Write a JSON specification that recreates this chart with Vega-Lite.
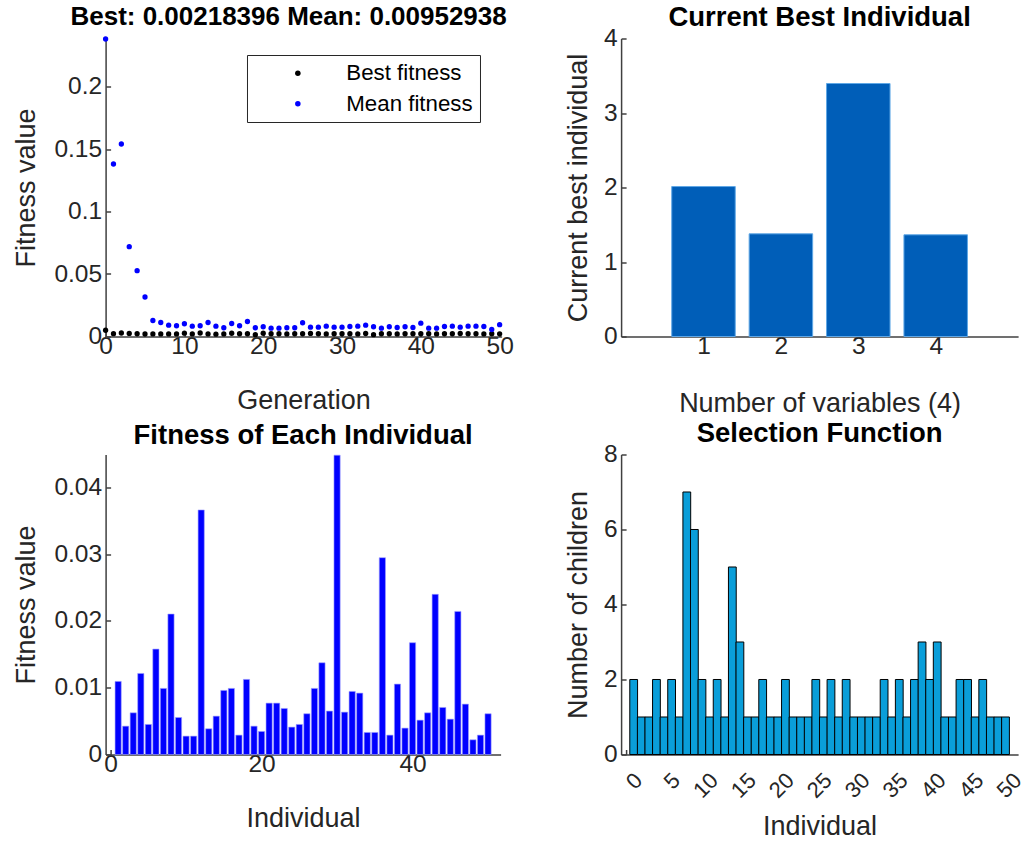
{
  "$schema": "https://vega.github.io/schema/vega-lite/v6.json",
  "background": "white",
  "padding": {"left": 11.6, "top": 3.5, "right": 5, "bottom": 5},
  "config": {
    "font": "Liberation Sans",
    "view": {"stroke": null},
    "axis": {
      "grid": false,
      "domainColor": "#404040",
      "domainWidth": 1.5,
      "tickColor": "#404040",
      "tickWidth": 1.5,
      "tickSize": -5,
      "labelColor": "#262626",
      "titleColor": "#262626",
      "labelFont": "Liberation Sans",
      "titleFont": "Liberation Sans",
      "labelFontSize": 24.5,
      "titleFontSize": 27,
      "titleFontWeight": "normal",
      "labelFlush": false,
      "labelOverlap": false,
      "titleBaseline": "alphabetic"
    },
    "axisX": {"labelPadding": 3, "titleY": 72},
    "axisY": {"labelPadding": 9},
    "title": {"font": "Liberation Sans", "fontSize": 27.5, "fontWeight": "bold", "color": "black", "baseline": "alphabetic", "offset": 12, "frame": "group"}
  },
  "columns": 2,
  "spacing": {"row": 118, "column": 119.5},
  "bounds": "flush",
  "concat": [
    {
      "width": 396,
      "height": 298,
      "title": {"text": "Best: 0.00218396 Mean: 0.00952938", "fontSize": 26, "dx": -15, "dy": 6},
      "data": {"values": [
        {"gen": 0, "Best fitness": 0.0050, "Mean fitness": 0.238},
        {"gen": 1, "Best fitness": 0.0023, "Mean fitness": 0.138},
        {"gen": 2, "Best fitness": 0.0028, "Mean fitness": 0.154},
        {"gen": 3, "Best fitness": 0.0025, "Mean fitness": 0.0719},
        {"gen": 4, "Best fitness": 0.0022, "Mean fitness": 0.0527},
        {"gen": 5, "Best fitness": 0.0020, "Mean fitness": 0.0316},
        {"gen": 6, "Best fitness": 0.0021, "Mean fitness": 0.0128},
        {"gen": 7, "Best fitness": 0.0021, "Mean fitness": 0.0112},
        {"gen": 8, "Best fitness": 0.0021, "Mean fitness": 0.0091},
        {"gen": 9, "Best fitness": 0.0021, "Mean fitness": 0.0086},
        {"gen": 10, "Best fitness": 0.0027, "Mean fitness": 0.0102},
        {"gen": 11, "Best fitness": 0.0021, "Mean fitness": 0.0083},
        {"gen": 12, "Best fitness": 0.0028, "Mean fitness": 0.0086},
        {"gen": 13, "Best fitness": 0.0021, "Mean fitness": 0.0112},
        {"gen": 14, "Best fitness": 0.0019, "Mean fitness": 0.0083},
        {"gen": 15, "Best fitness": 0.0021, "Mean fitness": 0.0070},
        {"gen": 16, "Best fitness": 0.0026, "Mean fitness": 0.0104},
        {"gen": 17, "Best fitness": 0.0022, "Mean fitness": 0.0086},
        {"gen": 18, "Best fitness": 0.0022, "Mean fitness": 0.0120},
        {"gen": 19, "Best fitness": 0.0015, "Mean fitness": 0.0070},
        {"gen": 20, "Best fitness": 0.0026, "Mean fitness": 0.0078},
        {"gen": 21, "Best fitness": 0.0022, "Mean fitness": 0.0067},
        {"gen": 22, "Best fitness": 0.0022, "Mean fitness": 0.0067},
        {"gen": 23, "Best fitness": 0.0021, "Mean fitness": 0.0070},
        {"gen": 24, "Best fitness": 0.0022, "Mean fitness": 0.0070},
        {"gen": 25, "Best fitness": 0.0022, "Mean fitness": 0.0110},
        {"gen": 26, "Best fitness": 0.0025, "Mean fitness": 0.0075},
        {"gen": 27, "Best fitness": 0.0022, "Mean fitness": 0.0075},
        {"gen": 28, "Best fitness": 0.0021, "Mean fitness": 0.0083},
        {"gen": 29, "Best fitness": 0.0022, "Mean fitness": 0.0075},
        {"gen": 30, "Best fitness": 0.0022, "Mean fitness": 0.0075},
        {"gen": 31, "Best fitness": 0.0022, "Mean fitness": 0.0080},
        {"gen": 32, "Best fitness": 0.0021, "Mean fitness": 0.0083},
        {"gen": 33, "Best fitness": 0.0024, "Mean fitness": 0.0091},
        {"gen": 34, "Best fitness": 0.0015, "Mean fitness": 0.0078},
        {"gen": 35, "Best fitness": 0.0022, "Mean fitness": 0.0067},
        {"gen": 36, "Best fitness": 0.0022, "Mean fitness": 0.0078},
        {"gen": 37, "Best fitness": 0.0021, "Mean fitness": 0.0072},
        {"gen": 38, "Best fitness": 0.0022, "Mean fitness": 0.0078},
        {"gen": 39, "Best fitness": 0.0022, "Mean fitness": 0.0072},
        {"gen": 40, "Best fitness": 0.0022, "Mean fitness": 0.0107},
        {"gen": 41, "Best fitness": 0.0022, "Mean fitness": 0.0067},
        {"gen": 42, "Best fitness": 0.0021, "Mean fitness": 0.0067},
        {"gen": 43, "Best fitness": 0.0022, "Mean fitness": 0.0080},
        {"gen": 44, "Best fitness": 0.0022, "Mean fitness": 0.0083},
        {"gen": 45, "Best fitness": 0.0024, "Mean fitness": 0.0075},
        {"gen": 46, "Best fitness": 0.0022, "Mean fitness": 0.0083},
        {"gen": 47, "Best fitness": 0.0022, "Mean fitness": 0.0083},
        {"gen": 48, "Best fitness": 0.0021, "Mean fitness": 0.0080},
        {"gen": 49, "Best fitness": 0.0022, "Mean fitness": 0.0056},
        {"gen": 50, "Best fitness": 0.00218, "Mean fitness": 0.0095}
      ]},
      "transform": [{"fold": ["Best fitness", "Mean fitness"], "as": ["series", "fitness"]}],
      "mark": {"type": "point", "filled": true, "size": 28, "opacity": 1},
      "encoding": {
        "x": {"field": "gen", "type": "quantitative", "scale": {"domain": [0, 50.25], "nice": false, "zero": false},
              "axis": {"title": "Generation", "values": [0, 10, 20, 30, 40, 50]}},
        "y": {"field": "fitness", "type": "quantitative", "scale": {"domain": [0, 0.2384], "nice": false},
              "axis": {"title": "Fitness value", "values": [0, 0.05, 0.1, 0.15, 0.2], "format": "~g", "titleX": -71.5}},
        "color": {"field": "series", "type": "nominal",
                  "scale": {"domain": ["Best fitness", "Mean fitness"], "range": ["#000000", "#0000FF"]},
                  "legend": {"title": null, "orient": "none", "legendX": 141.4, "legendY": 16.5, "direction": "vertical",
                             "fillColor": "white", "strokeColor": "#262626", "padding": 7, "rowPadding": 7.5,
                             "symbolOffset": 32.7, "labelOffset": 37.3, "symbolSize": 30, "symbolType": "circle",
                             "symbolStrokeWidth": 0, "labelFontSize": 22.3, "labelColor": "black", "labelFont": "Liberation Sans"}}
      }
    },
    {
      "width": 397,
      "height": 298,
      "title": {"text": "Current Best Individual", "dy": 18},
      "data": {"values": [
        {"var": 1, "val": 2.013},
        {"var": 2, "val": 1.378},
        {"var": 3, "val": 3.396},
        {"var": 4, "val": 1.365}
      ]},
      "mark": {"type": "bar", "width": 63.5, "color": "#005EB8", "stroke": "#5FA8E6", "strokeWidth": 1},
      "encoding": {
        "x": {"field": "var", "type": "quantitative", "scale": {"domain": [0, 5], "nice": false},
              "axis": {"title": "Number of variables (4)", "values": [1, 2, 3, 4], "titleY": 75}},
        "y": {"field": "val", "type": "quantitative", "scale": {"domain": [0, 4], "nice": false},
              "axis": {"title": "Current best individual", "values": [0, 1, 2, 3, 4], "titleX": -35}}
      }
    },
    {
      "width": 395,
      "height": 300,
      "title": {"text": "Fitness of Each Individual", "dy": 7},
      "data": {"values": [
        {"ind": 1, "fit": 0.01094}, {"ind": 2, "fit": 0.00424}, {"ind": 3, "fit": 0.00624}, {"ind": 4, "fit": 0.01213},
        {"ind": 5, "fit": 0.0045}, {"ind": 6, "fit": 0.01578}, {"ind": 7, "fit": 0.00989}, {"ind": 8, "fit": 0.02102},
        {"ind": 9, "fit": 0.00554}, {"ind": 10, "fit": 0.00275}, {"ind": 11, "fit": 0.00275}, {"ind": 12, "fit": 0.0366},
        {"ind": 13, "fit": 0.00385}, {"ind": 14, "fit": 0.00574}, {"ind": 15, "fit": 0.00959}, {"ind": 16, "fit": 0.00989},
        {"ind": 17, "fit": 0.0029}, {"ind": 18, "fit": 0.01124}, {"ind": 19, "fit": 0.00424}, {"ind": 20, "fit": 0.00345},
        {"ind": 21, "fit": 0.00769}, {"ind": 22, "fit": 0.00769}, {"ind": 23, "fit": 0.00689}, {"ind": 24, "fit": 0.0041},
        {"ind": 25, "fit": 0.0045}, {"ind": 26, "fit": 0.0061}, {"ind": 27, "fit": 0.00989}, {"ind": 28, "fit": 0.01373},
        {"ind": 29, "fit": 0.0065}, {"ind": 30, "fit": 0.0448}, {"ind": 31, "fit": 0.00634}, {"ind": 32, "fit": 0.00944},
        {"ind": 33, "fit": 0.00919}, {"ind": 34, "fit": 0.0033}, {"ind": 35, "fit": 0.0033}, {"ind": 36, "fit": 0.02946},
        {"ind": 37, "fit": 0.0029}, {"ind": 38, "fit": 0.01054}, {"ind": 39, "fit": 0.00395}, {"ind": 40, "fit": 0.01673},
        {"ind": 41, "fit": 0.00514}, {"ind": 42, "fit": 0.00624}, {"ind": 43, "fit": 0.02397}, {"ind": 44, "fit": 0.00704},
        {"ind": 45, "fit": 0.00529}, {"ind": 46, "fit": 0.02142}, {"ind": 47, "fit": 0.00754}, {"ind": 48, "fit": 0.0022},
        {"ind": 49, "fit": 0.0029}, {"ind": 50, "fit": 0.0061}
      ]},
      "mark": {"type": "bar", "width": 6.2, "color": "#0000FF", "stroke": "#A0A0FF", "strokeWidth": 0.6},
      "encoding": {
        "x": {"field": "ind", "type": "quantitative", "scale": {"domain": [0, 51], "nice": false},
              "axis": {"title": "Individual", "values": [0, 20, 40]}},
        "y": {"field": "fit", "type": "quantitative", "scale": {"domain": [0, 0.0449], "nice": false},
              "axis": {"title": "Fitness value", "values": [0, 0.01, 0.02, 0.03, 0.04], "format": "~g", "titleX": -71.5}}
      }
    },
    {
      "width": 397,
      "height": 300,
      "title": {"text": "Selection Function", "dy": 18},
      "data": {"values": [
        {"ind": 1, "n": 2}, {"ind": 2, "n": 1}, {"ind": 3, "n": 1}, {"ind": 4, "n": 2}, {"ind": 5, "n": 1},
        {"ind": 6, "n": 2}, {"ind": 7, "n": 1}, {"ind": 8, "n": 7}, {"ind": 9, "n": 6}, {"ind": 10, "n": 2},
        {"ind": 11, "n": 1}, {"ind": 12, "n": 2}, {"ind": 13, "n": 1}, {"ind": 14, "n": 5}, {"ind": 15, "n": 3},
        {"ind": 16, "n": 1}, {"ind": 17, "n": 1}, {"ind": 18, "n": 2}, {"ind": 19, "n": 1}, {"ind": 20, "n": 1},
        {"ind": 21, "n": 2}, {"ind": 22, "n": 1}, {"ind": 23, "n": 1}, {"ind": 24, "n": 1}, {"ind": 25, "n": 2},
        {"ind": 26, "n": 1}, {"ind": 27, "n": 2}, {"ind": 28, "n": 1}, {"ind": 29, "n": 2}, {"ind": 30, "n": 1},
        {"ind": 31, "n": 1}, {"ind": 32, "n": 1}, {"ind": 33, "n": 1}, {"ind": 34, "n": 2}, {"ind": 35, "n": 1},
        {"ind": 36, "n": 2}, {"ind": 37, "n": 1}, {"ind": 38, "n": 2}, {"ind": 39, "n": 3}, {"ind": 40, "n": 2},
        {"ind": 41, "n": 3}, {"ind": 42, "n": 1}, {"ind": 43, "n": 1}, {"ind": 44, "n": 2}, {"ind": 45, "n": 2},
        {"ind": 46, "n": 1}, {"ind": 47, "n": 2}, {"ind": 48, "n": 1}, {"ind": 49, "n": 1}, {"ind": 50, "n": 1}
      ]},
      "mark": {"type": "bar", "width": 7.78, "color": "#0A9ED9", "stroke": "#000000", "strokeWidth": 1},
      "encoding": {
        "x": {"field": "ind", "type": "quantitative", "scale": {"domain": [0, 51], "nice": false},
              "axis": {"title": "Individual", "values": [0, 5, 10, 15, 20, 25, 30, 35, 40, 45, 50],
                       "labelAngle": -45, "labelAlign": "right", "labelBaseline": "middle", "labelFontSize": 22,
                       "labelPadding": 27, "labelOffset": 12, "titleY": 80}},
        "y": {"field": "n", "type": "quantitative", "scale": {"domain": [0, 8], "nice": false},
              "axis": {"title": "Number of children", "values": [0, 2, 4, 6, 8], "titleX": -35}}
      }
    }
  ]
}
